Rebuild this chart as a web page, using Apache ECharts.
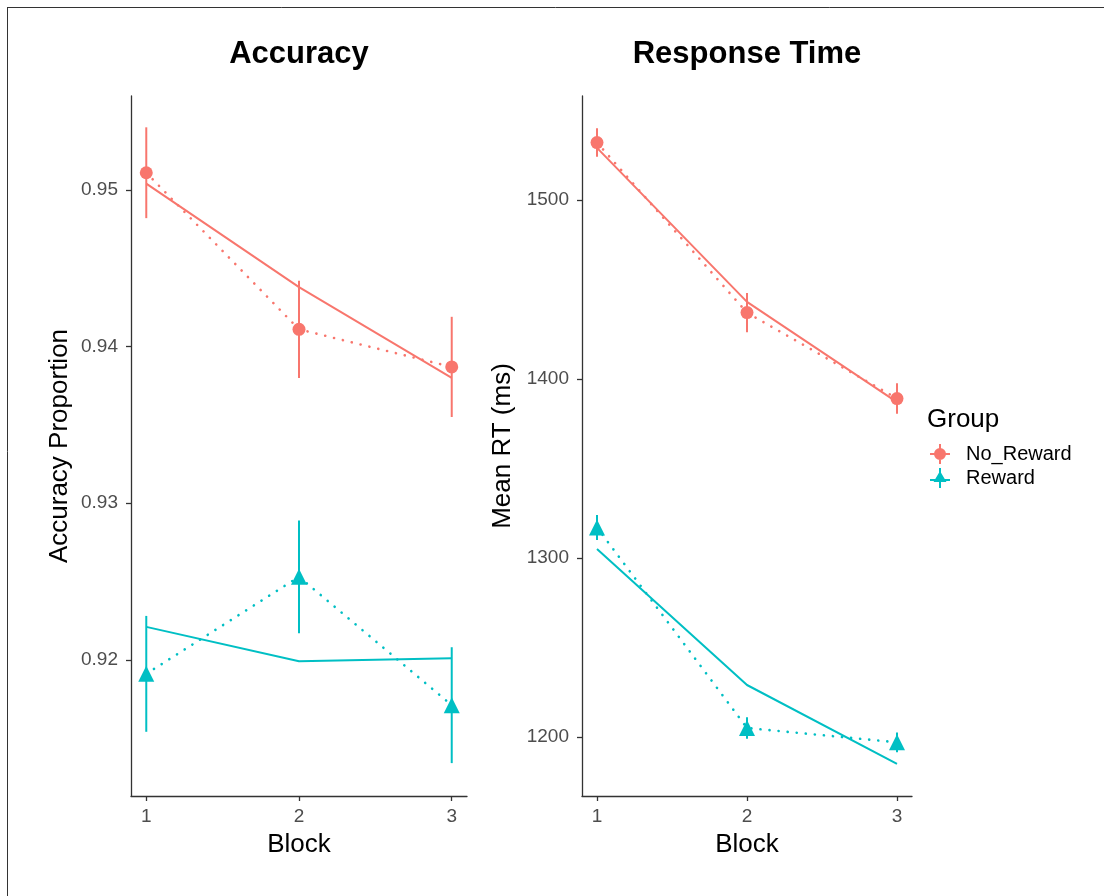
<!DOCTYPE html>
<html>
<head>
<meta charset="utf-8">
<script src="https://cdn.jsdelivr.net/npm/echarts@6/dist/echarts.min.js"></script>
<style>
html,body{margin:0;padding:0;background:#fff;}
#c{width:1104px;height:896px;}
</style>
</head>
<body>
<div id="c"></div>
<script>
// ---- data ----
const blocks = [1, 2, 3];
const accTicks = [0.92, 0.93, 0.94, 0.95];
const rtTicks = [1200, 1300, 1400, 1500];
const groups = ['No_Reward', 'Reward'];

const accNoRewardMean = [0.9511, 0.9411, 0.9387];
const accNoRewardSE   = [0.0029, 0.0031, 0.0032];
const accNoRewardFit  = [0.9504, 0.9438, 0.9380];
const accRewardMean   = [0.9191, 0.9253, 0.9171];
const accRewardSE     = [0.0037, 0.0036, 0.0037];
const accRewardFit    = [0.9221, 0.9199, 0.9201];

const rtNoRewardMean = [1532, 1437, 1389];
const rtNoRewardSE   = [8, 11, 8.5];
const rtNoRewardFit  = [1529, 1443, 1387];
const rtRewardMean   = [1317, 1205, 1197];
const rtRewardSE     = [7, 6, 5.5];
const rtRewardFit    = [1305, 1229, 1185];

// ---- styling ----
const RED = '#F8766D', CYAN = '#00BFC4';
const FONT = '"Liberation Sans", Arial, Helvetica, sans-serif';
const AX = '#333333', TXT = '#4D4D4D';

function pairs(xs, ys) { return xs.map((x, i) => [x, ys[i]]); }
function errData(xs, m, se) { return xs.map((x, i) => [x, m[i] - se[i], m[i] + se[i]]); }

function errSeries(name, idx, data, color) {
  return {
    type: 'custom', name: name + '_err', xAxisIndex: idx, yAxisIndex: idx,
    data: data, silent: true, z: 3,
    encode: { x: 0, y: [1, 2] },
    renderItem: function (params, api) {
      const p1 = api.coord([api.value(0), api.value(1)]);
      const p2 = api.coord([api.value(0), api.value(2)]);
      return { type: 'line', shape: { x1: p1[0], y1: p1[1], x2: p2[0], y2: p2[1] },
        style: { stroke: color, lineWidth: 2 } };
    }
  };
}
function fitSeries(name, idx, data, color) {
  return { type: 'line', name: name + '_fit', xAxisIndex: idx, yAxisIndex: idx, data: data,
    showSymbol: false, symbol: 'none', silent: true, z: 2,
    lineStyle: { color: color, width: 2 } };
}
function obsSeries(name, idx, data, color, symbol, size) {
  return { type: 'line', name: name, xAxisIndex: idx, yAxisIndex: idx, data: data,
    symbol: symbol, symbolSize: size, showSymbol: true, z: 4,
    itemStyle: { color: color, opacity: 1 },
    lineStyle: { color: color, width: 2.6, type: [0.1, 9], cap: 'round' } };
}

function xAxis(idx) {
  return { type: 'value', gridIndex: idx, min: 0.9, max: 3.1,
    name: 'Block', nameLocation: 'middle', nameGap: 36,
    nameTextStyle: { fontFamily: FONT, fontSize: 26, color: '#000' },
    axisLine: { show: true, onZero: false, lineStyle: { color: AX, width: 1.3 } },
    axisTick: { show: true, length: 5, customValues: blocks, lineStyle: { color: AX, width: 1.3 } },
    axisLabel: { customValues: blocks, margin: 11, fontFamily: FONT, fontSize: 19, color: TXT },
    splitLine: { show: false } };
}
function yAxis(idx, min, max, ticks, name, gap, dec) {
  return { type: 'value', gridIndex: idx, min: min, max: max,
    name: name, nameLocation: 'middle', nameGap: gap,
    nameTextStyle: { fontFamily: FONT, fontSize: 26, color: '#000' },
    axisLine: { show: true, onZero: false, lineStyle: { color: AX, width: 1.3 } },
    axisTick: { show: true, length: 5, customValues: ticks, lineStyle: { color: AX, width: 1.3 } },
    axisLabel: { customValues: ticks, margin: 13, fontFamily: FONT, fontSize: 19, color: TXT,
      formatter: v => dec ? v.toFixed(dec) : String(v) },
    splitLine: { show: false } };
}

const iconCircle = 'path://M0,9H20V11H0Z M9,0H11V20H9Z M16,10A6,6 0 1,1 4,10A6,6 0 1,1 16,10Z';
const iconTri = 'path://M0,11H20V13H0Z M9,0H11V20H9Z M10,3L16.5,14L3.5,14Z';

const option = {
  animation: false,
  backgroundColor: '#fff',
  title: [
    { text: 'Accuracy', left: 299, top: 39, textAlign: 'center', padding: 0,
      textStyle: { fontFamily: FONT, fontSize: 31, fontWeight: 'bold', color: '#000' } },
    { text: 'Response Time', left: 747, top: 39, textAlign: 'center', padding: 0,
      textStyle: { fontFamily: FONT, fontSize: 31, fontWeight: 'bold', color: '#000' } },
    { text: 'Group', left: 927, top: 407, padding: 0,
      textStyle: { fontFamily: FONT, fontSize: 26, fontWeight: 'normal', color: '#000' } }
  ],
  legend: {
    orient: 'vertical', left: 930, top: 444, padding: 0, itemWidth: 20, itemHeight: 20, itemGap: 4,
    selectedMode: false,
    textStyle: { fontFamily: FONT, fontSize: 20, color: '#000', padding: [0, 0, 0, 11] },
    data: [{ name: 'No_Reward', icon: iconCircle }, { name: 'Reward', icon: iconTri }]
  },
  grid: [
    { left: 131, top: 96, width: 336, height: 700 },
    { left: 582, top: 96, width: 330, height: 700 }
  ],
  xAxis: [xAxis(0), xAxis(1)],
  yAxis: [
    yAxis(0, 0.9113, 0.956, accTicks, 'Accuracy Proportion', 58, 2),
    yAxis(1, 1167, 1558, rtTicks, 'Mean RT (ms)', 66, 0)
  ],
  graphic: [
    { type: 'line', shape: { x1: 7.5, y1: 7, x2: 7.5, y2: 896 }, style: { stroke: '#333', lineWidth: 1 } },
    { type: 'line', shape: { x1: 7, y1: 7.5, x2: 1104, y2: 7.5 }, style: { stroke: '#333', lineWidth: 1 } }
  ],
  series: [
    fitSeries('No_Reward', 0, pairs(blocks, accNoRewardFit), RED),
    fitSeries('Reward', 0, pairs(blocks, accRewardFit), CYAN),
    errSeries('No_Reward', 0, errData(blocks, accNoRewardMean, accNoRewardSE), RED),
    errSeries('Reward', 0, errData(blocks, accRewardMean, accRewardSE), CYAN),
    obsSeries('No_Reward', 0, pairs(blocks, accNoRewardMean), RED, 'circle', 13),
    obsSeries('Reward', 0, pairs(blocks, accRewardMean), CYAN, 'triangle', 16),

    fitSeries('No_Reward', 1, pairs(blocks, rtNoRewardFit), RED),
    fitSeries('Reward', 1, pairs(blocks, rtRewardFit), CYAN),
    errSeries('No_Reward', 1, errData(blocks, rtNoRewardMean, rtNoRewardSE), RED),
    errSeries('Reward', 1, errData(blocks, rtRewardMean, rtRewardSE), CYAN),
    obsSeries('No_Reward', 1, pairs(blocks, rtNoRewardMean), RED, 'circle', 13),
    obsSeries('Reward', 1, pairs(blocks, rtRewardMean), CYAN, 'triangle', 16)
  ]
};

const chart = echarts.init(document.getElementById('c'), null, { renderer: 'canvas' });
chart.setOption(option);
</script>
</body>
</html>
